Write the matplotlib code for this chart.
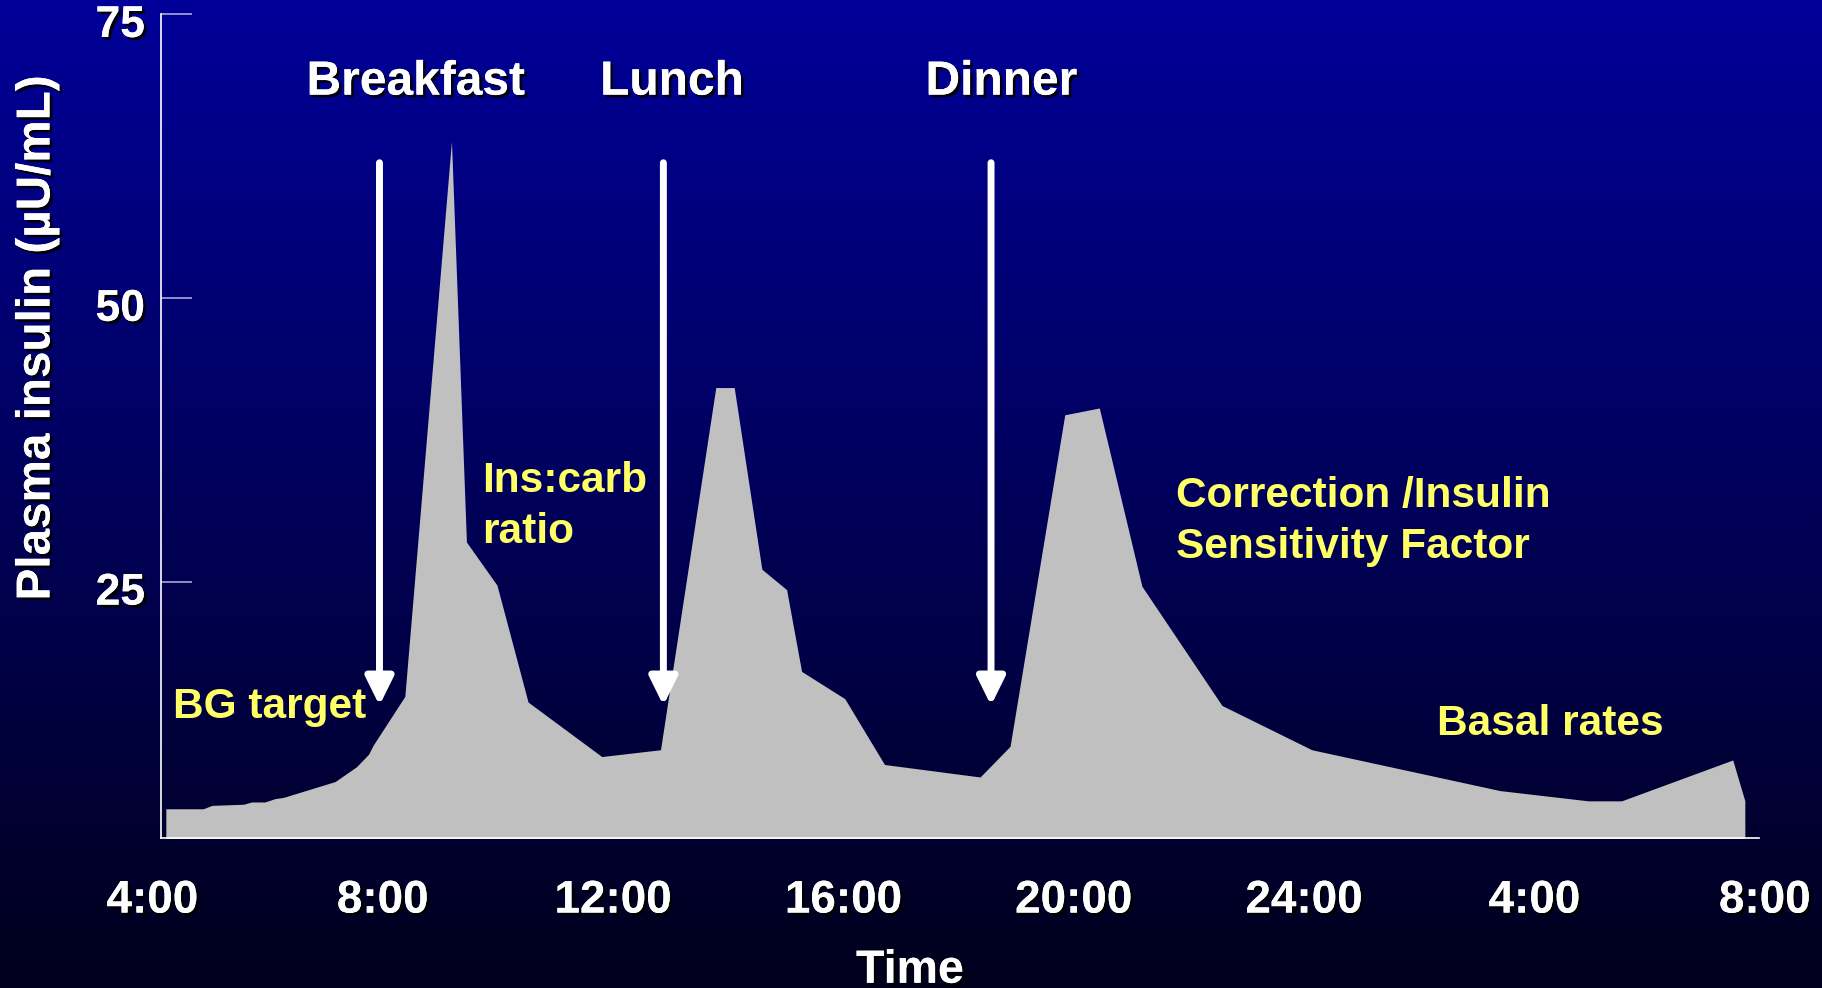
import numpy as np
import matplotlib.pyplot as plt
import matplotlib.patheffects as pe
from matplotlib.transforms import ScaledTranslation

plt.rcParams['font.family'] = ['Liberation Sans', 'DejaVu Sans']
plt.rcParams['font.weight'] = 'bold'

# clock time in hours from midnight (28 = 4:00 next day), plasma insulin in µU/mL
hours = [4.23, 4.88, 5.03, 5.58, 5.72, 5.95, 6.13, 6.27, 7.17, 7.54, 7.75, 7.83,
         8.38, 9.19, 9.45, 9.98, 10.52, 11.80, 12.82, 13.78, 14.10, 14.58, 15.01,
         15.27, 16.02, 16.71, 18.37, 18.89, 19.84, 20.44, 21.18, 22.57, 24.13,
         27.40, 28.93, 29.51, 31.44, 31.65]
insulin = [5.0, 5.0, 5.3, 5.4, 5.6, 5.6, 5.9, 6.0, 7.4, 8.7, 9.8, 10.6,
           14.9, 63.8, 28.5, 24.7, 14.4, 9.6, 10.2, 42.1, 42.1, 26.1, 24.3,
           17.1, 14.7, 8.9, 7.8, 10.5, 39.7, 40.3, 24.6, 14.1, 10.2,
           6.6, 5.7, 5.7, 9.3, 5.7]

tick_hours = [4, 8, 12, 16, 20, 24, 28, 32]
tick_labels = ['4:00', '8:00', '12:00', '16:00', '20:00', '24:00', '4:00', '8:00']
y_ticks = [25, 50, 75]

# meal boluses: arrow time and where the caption sits
meals = ['Breakfast', 'Lunch', 'Dinner']
meal_hours = [7.94, 12.87, 18.56]
meal_label_x = [8.57, 13.02, 18.74]
meal_label_y = 67.9
arrow_top = 61.9
arrow_tip = 14.1

# pump settings notes (text, x, baseline of last line)
notes = [('BG target', 4.35, 12.96),
         ('Ins:carb\nratio', 9.72, 28.37),
         ('Correction /Insulin\nSensitivity Factor', 21.78, 27.05),
         ('Basal rates', 26.30, 11.5)]

y_min, y_max = 2.4, 75
x_min, x_max = 4, 32
x_axis_start, x_axis_end = 4.146, 31.89

shadow = [pe.withSimplePatchShadow(offset=(2, -2), shadow_rgbFace='black', alpha=0.9),
          pe.Normal()]

fig = plt.figure(figsize=(18.22, 9.88), dpi=100)

# dark blue vertical gradient behind everything
bg = fig.add_axes([0, 0, 1, 1], zorder=-1)
shade = np.linspace(0.60, 0.11, 256).reshape(-1, 1)
grad = np.zeros((256, 1, 3))
grad[:, :, 2] = shade
bg.imshow(grad, aspect='auto', extent=[0, 1, 0, 1])
bg.axis('off')

ax = fig.add_axes([0.08375, 0.15152, 0.88496, 0.83431])
ax.set_facecolor('none')

ax.fill_between(hours, insulin, 0, color='#c0c0c0', linewidth=0, zorder=2)

for x in meal_hours:
    ax.annotate('', xy=(x, arrow_tip), xytext=(x, arrow_top),
                arrowprops=dict(arrowstyle='-|>,head_length=0.85,head_width=0.42',
                                color='white', lw=5, mutation_scale=20,
                                shrinkA=0, shrinkB=0, capstyle='round'),
                zorder=4)

for name, x in zip(meals, meal_label_x):
    ax.text(x, meal_label_y, name, color='white', fontsize=34.5, ha='center',
            va='baseline', path_effects=shadow, zorder=5)

for text, x, y in notes:
    ax.text(x, y, text, color='#ffff66', fontsize=30.5, ha='left', va='baseline',
            linespacing=1.37, zorder=5)

ax.set_xlim(x_min, x_max)
ax.set_ylim(y_min, y_max)

# spine placement resets the ticks, so do it before styling them
for side in ['top', 'right']:
    ax.spines[side].set_visible(False)
ax.spines['left'].set_position(('data', x_axis_start))
ax.spines['bottom'].set_bounds(x_axis_start, x_axis_end)
for side in ['left', 'bottom']:
    ax.spines[side].set_color('white')
    ax.spines[side].set_linewidth(1.2)
    ax.spines[side].set_zorder(3)

ax.set_xticks(tick_hours, tick_labels)
ax.set_yticks(y_ticks)
ax.tick_params(axis='x', length=0, pad=29, labelsize=33, labelcolor='white')
ax.tick_params(axis='y', direction='in', length=22, width=1.2, color='#a8a8d8',
               pad=11.5, labelsize=32, labelcolor='white')
nudge = ScaledTranslation(0, -5 / 72, fig.dpi_scale_trans)
for lbl in ax.get_xticklabels() + ax.get_yticklabels():
    lbl.set_fontweight('bold')
    lbl.set_path_effects(shadow)
for lbl in ax.get_yticklabels():
    lbl.set_transform(lbl.get_transform() + nudge)

ax.set_ylabel('Plasma insulin (µU/mL)', color='white', fontsize=34.3,
              fontweight='bold', va='center', path_effects=shadow)
ax.yaxis.set_label_coords(-0.0717, 0.607)
ax.set_xlabel('Time', color='white', fontsize=33.5, fontweight='bold',
              va='baseline', path_effects=shadow)
ax.xaxis.set_label_coords(0.4697, -0.1752)

fig.savefig('out.png', dpi=100)
